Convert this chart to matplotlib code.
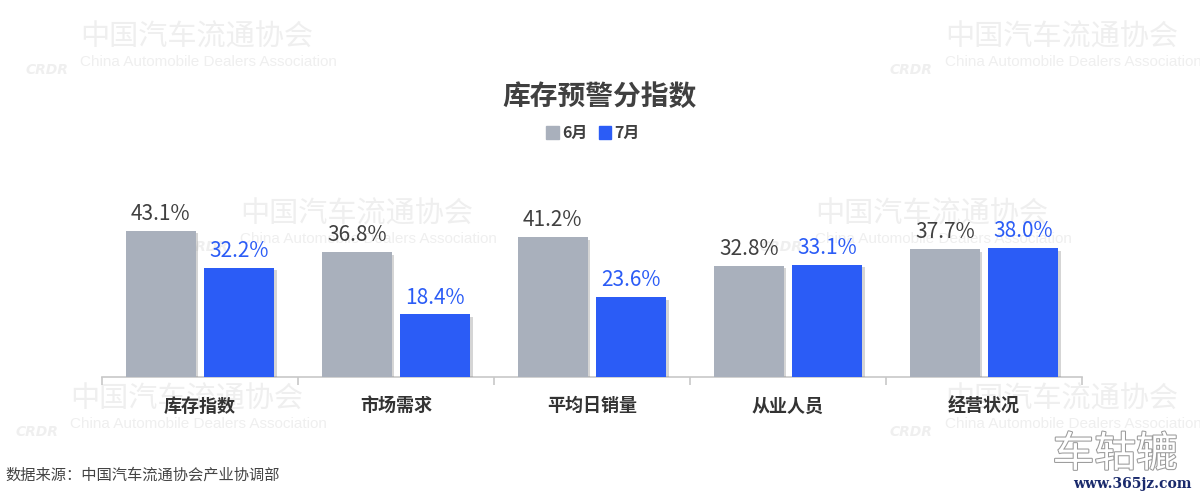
import matplotlib
matplotlib.use("Agg")
import matplotlib.pyplot as plt
import matplotlib.patheffects as pe
from matplotlib.patches import Rectangle
import numpy as np

plt.rcParams['font.family'] = ['Noto Sans CJK SC', 'DejaVu Sans']

categories = ["库存指数", "市场需求", "平均日销量", "从业人员", "经营状况"]
june = [43.1, 36.8, 41.2, 32.8, 37.7]
july = [32.2, 18.4, 23.6, 33.1, 38.0]
series_names = ["6月", "7月"]
title = "库存预警分指数"
source = "数据来源：中国汽车流通协会产业协调部"

GRAY = "#a9b0bc"
BLUE = "#2b5cf6"
TXT = "#404040"
WM = "#efefef"

fig = plt.figure(figsize=(12, 4.97), dpi=100)
fig.patch.set_facecolor("white")

# background axes for watermarks
bg = fig.add_axes([0, 0, 1, 1], zorder=-5)
bg.set_xlim(0, 1200)
bg.set_ylim(497, 0)
bg.axis("off")
wm_pos = [(80, 38), (945, 38), (240, 215), (815, 215), (70, 400), (945, 400)]
for (px, py) in wm_pos:
    bg.text(px, py, "中国汽车流通协会", fontsize=21, color=WM,
            ha="left", va="center", fontweight="light")
    bg.text(px, py + 24, "China Automobile Dealers Association",
            fontsize=11, color=WM, ha="left", va="center",
            family=["Liberation Sans", "DejaVu Sans"])
    bg.text(px - 55, py + 32, "CRDR", fontsize=10, color=WM,
            ha="left", va="center", style="italic", fontweight="bold",
            family=["DejaVu Sans"])

ax = fig.add_axes([102 / 1200, 1 - 377 / 497, 980 / 1200, 227 / 497], zorder=1)
ax.set_facecolor("none")
x = np.arange(len(categories))
w = 0.355
off = 0.2
shadow = [pe.SimplePatchShadow(offset=(2, -2), shadow_rgbFace="#888888", alpha=0.35), pe.Normal()]
ax.bar(x - off, june, w, color=GRAY, zorder=3, path_effects=shadow)
ax.bar(x + off, july, w, color=BLUE, zorder=3, path_effects=shadow)

for xi, v in zip(x - off, june):
    ax.annotate(f"{v:.1f}%", (xi, v), xytext=(0, 4), textcoords="offset points",
                ha="center", va="bottom", fontsize=15, color=TXT)
for xi, v in zip(x + off, july):
    ax.annotate(f"{v:.1f}%", (xi, v), xytext=(0, 4), textcoords="offset points",
                ha="center", va="bottom", fontsize=15, color=BLUE)

ax.set_xlim(-0.5, len(categories) - 0.5)
ax.set_ylim(0, 66.8)
for s in ["top", "right", "left"]:
    ax.spines[s].set_visible(False)
ax.spines["bottom"].set_color("#c8c8c8")
ax.spines["bottom"].set_linewidth(1.2)
ax.set_yticks([])
ax.set_xticks(x)
ax.set_xticklabels(categories, fontsize=13, fontweight="bold", color="#333333")
ax.tick_params(axis="x", which="major", length=0, pad=14)
ax.set_xticks(np.arange(-0.5, len(categories)), minor=True)
ax.tick_params(axis="x", which="minor", length=6, color="#c8c8c8", width=1.2)

# title
fig.text(600 / 1200, 1 - 97 / 497, title, ha="center", va="center",
         fontsize=20, fontweight="bold", color=TXT)

# legend
handles = [Rectangle((0, 0), 1, 1, color=GRAY), Rectangle((0, 0), 1, 1, color=BLUE)]
leg = fig.legend(handles, series_names, loc="center", bbox_to_anchor=(593 / 1200, 1 - 133 / 497),
                 ncol=2, frameon=False, handlelength=0.8, handleheight=0.9,
                 handletextpad=0.2, columnspacing=0.7,
                 prop={"size": 11.5, "weight": "bold"})
for t in leg.get_texts():
    t.set_color(TXT)

# source
fig.text(5 / 1200, 1 - 475 / 497, source, ha="left", va="center", fontsize=11, color="#444444")

# corner watermark
fig.text(1115 / 1200, 1 - 455 / 497, "车轱辘", ha="center", va="center", fontsize=30,
         color="white", zorder=5,
         path_effects=[pe.withStroke(linewidth=1.5, foreground="#9a9a9a")])
fig.text(1192 / 1200, 1 - 484 / 497, "www.365jz.com", ha="right", va="center", fontsize=10,
         color="#1a2a6c", fontweight="bold", family=["DejaVu Serif"], zorder=5)

fig.savefig("out.png", dpi=100, facecolor="white")
